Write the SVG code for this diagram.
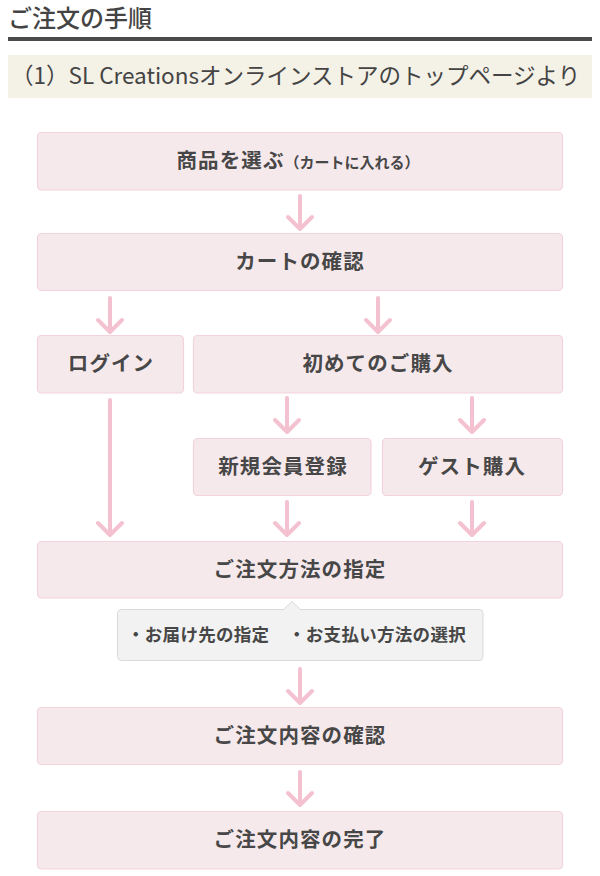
<svg xmlns="http://www.w3.org/2000/svg" width="600" height="876" viewBox="0 0 600 876">
<style>
.hd{font-family:"Noto Sans CJK JP","Noto Sans",sans-serif;fill:#444;}
.box{fill:#f6e9ec;stroke:#f2d3dc;stroke-width:1.2;}
.lbl{font-family:"Noto Sans CJK JP","Noto Sans",sans-serif;font-size:20.5px;font-weight:bold;fill:#474747;text-anchor:middle;letter-spacing:1.1px;}
.sm{font-size:15px;letter-spacing:0;}
.tip{fill:#f2f2f2;stroke:#dadada;stroke-width:1;}
.tt{font-family:"Noto Sans CJK JP","Noto Sans",sans-serif;font-size:17.5px;font-weight:600;fill:#474747;letter-spacing:0.3px;}
.arr{fill:none;stroke:#f3c1cf;stroke-width:4;stroke-linecap:round;stroke-linejoin:round;}
</style>
<g id="header">
<text class="hd" x="8" y="27" font-size="24" font-weight="500">ご注文の手順</text>
<rect x="8" y="37" width="584" height="4" fill="#4a4a4a"/>
</g>
<g id="subheader">
<rect x="8" y="55" width="584" height="43" fill="#f4f1e7"/>
<text class="hd" x="11" y="84" font-size="22.5" fill="#333">（1）SL Creationsオンラインストアのトップページより</text>
</g>
<g id="connectors">
<path class="arr" d="M300 196V229M288 217L300 229L312 217"/>
<path class="arr" d="M110 298V332M98 320L110 332L122 320"/>
<path class="arr" d="M378 298V332M366 320L378 332L390 320"/>
<path class="arr" d="M287 398V432M275 420L287 432L299 420"/>
<path class="arr" d="M472 398V432M460 420L472 432L484 420"/>
<path class="arr" d="M110 400V535M98 523L110 535L122 523"/>
<path class="arr" d="M287 502V535M275 523L287 535L299 523"/>
<path class="arr" d="M472 502V535M460 523L472 535L484 523"/>
<path class="arr" d="M300 669V703M288 691L300 703L312 691"/>
<path class="arr" d="M300 772V805M288 793L300 805L312 793"/>
</g>
<g id="n-select">
<rect class="box" x="37.5" y="132.5" width="525" height="57.5" rx="4"/>
<text class="lbl" x="298" y="168">商品を選ぶ<tspan class="sm">（カートに入れる）</tspan></text>
</g>
<g id="n-cart">
<rect class="box" x="37.5" y="233.5" width="525" height="57" rx="4"/>
<text class="lbl" x="300" y="269">カートの確認</text>
</g>
<g id="n-login">
<rect class="box" x="37.5" y="335.5" width="146" height="57.5" rx="4"/>
<text class="lbl" x="111" y="371">ログイン</text>
</g>
<g id="n-first">
<rect class="box" x="193.5" y="335.5" width="369" height="57.5" rx="4"/>
<text class="lbl" x="378" y="371">初めてのご購入</text>
</g>
<g id="n-register">
<rect class="box" x="193.5" y="438.5" width="177.5" height="57" rx="4"/>
<text class="lbl" x="283" y="474">新規会員登録</text>
</g>
<g id="n-guest">
<rect class="box" x="382.5" y="438.5" width="180" height="57" rx="4"/>
<text class="lbl" x="472" y="474">ゲスト購入</text>
</g>
<g id="n-method">
<rect class="box" x="37.5" y="541.5" width="525" height="56.5" rx="4"/>
<text class="lbl" x="300" y="577">ご注文方法の指定</text>
</g>
<g id="n-note">
<rect class="tip" x="117.5" y="609.5" width="365.5" height="51" rx="4"/>
<path d="M283 610L292 601.5L301 610" fill="#f2f2f2" stroke="#dadada" stroke-width="1"/>
<rect x="284" y="609" width="16" height="2" fill="#f2f2f2"/>
<text class="tt" x="127" y="641">・お届け先の指定</text>
<text class="tt" x="288" y="641">・お支払い方法の選択</text>
</g>
<g id="n-confirm">
<rect class="box" x="37.5" y="707.5" width="525" height="57" rx="4"/>
<text class="lbl" x="300" y="743">ご注文内容の確認</text>
</g>
<g id="n-complete">
<rect class="box" x="37.5" y="811.5" width="525" height="57.5" rx="4"/>
<text class="lbl" x="300" y="847">ご注文内容の完了</text>
</g>
</svg>
